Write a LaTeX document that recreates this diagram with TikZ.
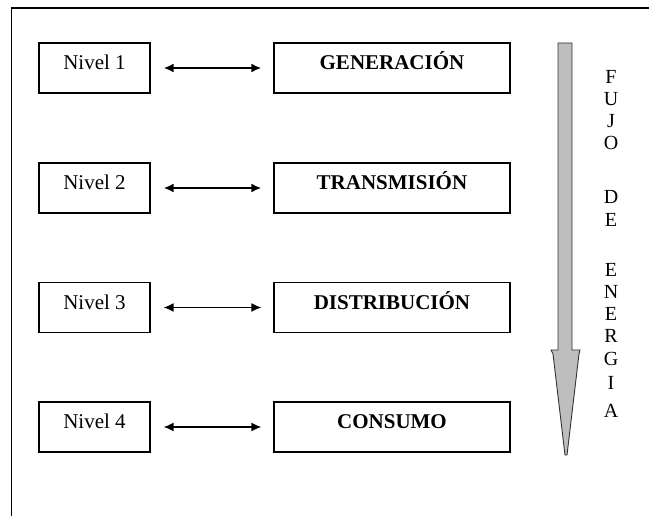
\documentclass[tikz,border=0pt]{standalone}
\usepackage{fontspec}
\setmainfont{Liberation Serif}
\usetikzlibrary{arrows.meta}
\definecolor{flowgray}{RGB}{190,190,190}
\begin{document}
\begin{tikzpicture}[x=1pt,y=-1pt,
  nivel/.style={draw, line width=1.2pt, minimum width=111pt, minimum height=50pt,
    inner sep=0pt, font=\fontsize{21}{21}\selectfont, text height=0.66em, text depth=0.3em},
  etapa/.style={nivel, minimum width=236pt, font=\fontsize{21}{21}\selectfont\bfseries},
  link/.style={{Latex[length=10pt,width=9pt]}-{Latex[length=10pt,width=9pt]},
    shorten <=13pt, shorten >=12pt},
  letra/.style={font=\fontsize{20}{20}\selectfont, anchor=base, inner sep=0pt}]
\useasboundingbox (0,0) rectangle (649,516);
\clip (0,0) rectangle (649,516);
% outer frame
\draw[line width=1.3pt] (11.5,530) |- (670,8);

% levels and stages
\node[nivel] (n1) at (94.5,68) {Nivel 1};
\node[nivel] (n2) at (94.5,188) {Nivel 2};
\node[nivel] (n3) at (94.5,307.5) {Nivel 3};
\node[nivel] (n4) at (94.5,427) {Nivel 4};
\node[etapa] (e1) at (392,68) {GENERACIÓN};
\node[etapa] (e2) at (392,188) {TRANSMISIÓN};
\node[etapa] (e3) at (392,307.5) {DISTRIBUCIÓN};
\node[etapa] (e4) at (392,427) {CONSUMO};
\foreach \i/\w in {1/2.0,2/2.0,3/1.5,4/1.5}
  \draw[link, line width=\w pt] (n\i.east) -- (e\i.west);

% energy flow arrow
\draw[fill=flowgray, draw=black!80, line width=0.9pt]
  (558,43) -- (572,43) -- (572,350) -- (580,350) -- (579,354) -- (567,455)
  -- (565,455) -- (553,354) -- (551,350) -- (558,350) -- cycle;

% vertical caption
\foreach \l/\y [count=\k] in {F/77,U/99,J/121,O/143,D/197,E/220,E/270,N/292,E/314,R/336,G/359,I/383,A/411}
  \node[letra] (c\k) at (611,\y+6.6) {\l};
\end{tikzpicture}
\end{document}
